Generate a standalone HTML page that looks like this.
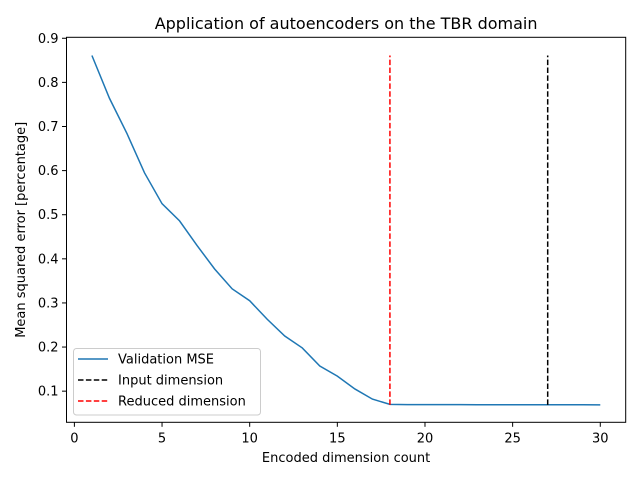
<!DOCTYPE html>
<html><head><meta charset="utf-8"><style>
body{margin:0;background:#fff;font-family:"Liberation Sans","DejaVu Sans",sans-serif}
svg text{font-family:"DejaVu Sans","Liberation Sans",sans-serif}
</style></head><body>
<svg id="chart" width="640" height="480" xmlns="http://www.w3.org/2000/svg"></svg>
<script>
const xValues=[1,2,3,4,5,6,7,8,9,10,11,12,13,14,15,16,17,18,19,20,21,22,23,24,25,26,27,28,29,30];
const mseValues=[0.861,0.764,0.684,0.595,0.525,0.486,0.43,0.377,0.332,0.305,0.263,0.225,0.198,0.157,0.134,0.105,0.082,0.070,0.0695,0.0695,0.0695,0.0695,0.0693,0.0693,0.0692,0.0692,0.0692,0.0692,0.0691,0.069];
const xTicks=[0,5,10,15,20,25,30];
const yTicks=[0.1,0.2,0.3,0.4,0.5,0.6,0.7,0.8,0.9];
const inputDim=27, reducedDim=18, vLineMin=0.069, vLineMax=0.861;
const L=66.5,R=625.7,T=37.3,B=422.3, xmin=-0.45,xmax=31.45,ymin=0.0294,ymax=0.9022;
const sx=v=>L+(v-xmin)/(xmax-xmin)*(R-L);
const sy=v=>B-(v-ymin)/(ymax-ymin)*(B-T);
const svg=document.getElementById('chart');const NS='http://www.w3.org/2000/svg';
function mk(t,a,txt){const e=document.createElementNS(NS,t);for(const k in a)e.setAttribute(k,a[k]);if(txt!==undefined)e.textContent=txt;svg.appendChild(e);return e;}
let e;
e=mk('polyline',{points:xValues.map((x,i)=>sx(x)+','+sy(mseValues[i])).join(' '),fill:'none',stroke:'#1f77b4','stroke-width':1.5});


e=mk('line',{x1:sx(inputDim),x2:sx(inputDim),y1:sy(vLineMin),y2:sy(vLineMax),stroke:'#000','stroke-width':1.5,'stroke-dasharray':'5.5,2.4'});


e=mk('line',{x1:sx(reducedDim),x2:sx(reducedDim),y1:sy(vLineMin),y2:sy(vLineMax),stroke:'red','stroke-width':1.5,'stroke-dasharray':'5.5,2.4'});


e=mk('rect',{x:L,y:T,width:R-L,height:B-T,fill:'none',stroke:'#000','stroke-width':1});


xTicks.forEach(t=>{e=mk('line',{x1:sx(t),x2:sx(t),y1:B,y2:B+4.5,stroke:'#000','stroke-width':1});


e=mk('text',{x:sx(t),y:B+20,'font-size':13,'text-anchor':'middle'},String(t));

});
yTicks.forEach(t=>{e=mk('line',{x1:L-4.5,x2:L,y1:sy(t),y2:sy(t),stroke:'#000','stroke-width':1});


e=mk('text',{x:L-8,y:sy(t)+4.5,'font-size':13,'text-anchor':'end'},t.toFixed(1));

});
e=mk('text',{x:(L+R)/2,y:29,'font-size':16,'text-anchor':'middle'},'Application of autoencoders on the TBR domain');


e=mk('text',{x:(L+R)/2,y:462,'font-size':13,'text-anchor':'middle'},'Encoded dimension count');


e=mk('text',{x:25,y:(T+B)/2,'font-size':13,'text-anchor':'middle',transform:'rotate(-90 25 '+(T+B)/2+')'},'Mean squared error [percentage]');


e=mk('rect',{x:73.5,y:348.5,width:187,height:66.5,rx:3,fill:'#fff','fill-opacity':0.8,stroke:'#ccc','stroke-width':1});


[['Validation MSE','#1f77b4',''],['Input dimension','#000','5.5,2.4'],['Reduced dimension','red','5.5,2.4']].forEach((d,i)=>{const y=359+i*21;
e=mk('line',{x1:78,x2:108,y1:y,y2:y,stroke:d[1],'stroke-width':1.5,'stroke-dasharray':d[2]||'none'});


e=mk('text',{x:118,y:y+4.5,'font-size':13},d[0]);

});
</script>
</body></html>
